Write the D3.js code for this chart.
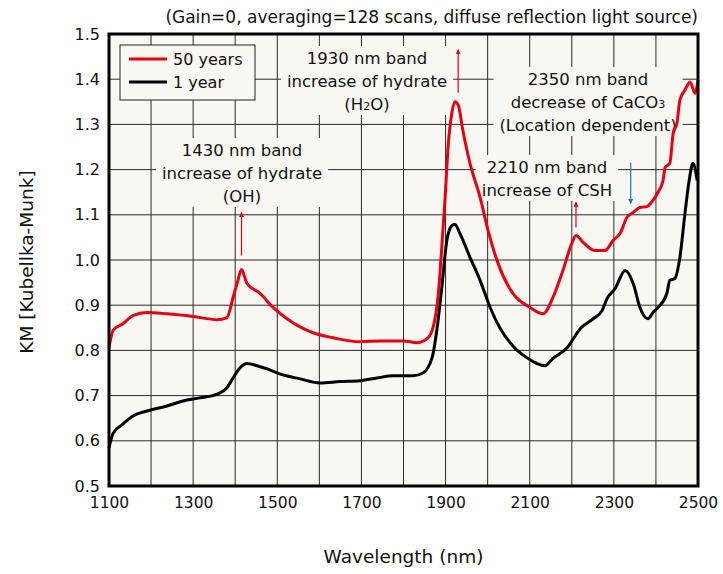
<!DOCTYPE html>
<html>
<head>
<meta charset="utf-8">
<script src="https://cdn.jsdelivr.net/npm/d3@7"></script>
<style>
  html, body { margin: 0; padding: 0; background: #fff; }
  svg { display: block; }
  text { font-family: "DejaVu Sans", sans-serif; fill: #111; }
</style>
</head>
<body>
<div id="chart"></div>
<script>
// Spektren: KM-Werte über der Wellenlänge, 50 Jahre vs. 1 Jahr
const wl50 = [1100, 1104, 1110, 1133, 1157, 1190, 1238, 1300, 1357, 1380, 1395, 1405, 1415, 1428, 1459, 1490, 1523, 1585, 1632, 1697, 1745, 1800, 1832, 1856, 1870, 1882, 1891, 1899, 1906, 1915, 1922, 1930, 1941, 1958, 1982, 2001, 2025, 2060, 2101, 2132, 2155, 2179, 2200, 2210, 2227, 2255, 2279, 2298, 2315, 2331, 2346, 2362, 2378, 2393, 2405, 2417, 2422, 2433, 2441, 2450, 2457, 2469, 2481, 2493, 2500];
const km50 = [0.806, 0.826, 0.845, 0.859, 0.877, 0.884, 0.881, 0.875, 0.868, 0.872, 0.917, 0.950, 0.979, 0.948, 0.926, 0.895, 0.870, 0.839, 0.828, 0.819, 0.821, 0.821, 0.817, 0.826, 0.850, 0.917, 1.028, 1.139, 1.250, 1.325, 1.350, 1.343, 1.287, 1.214, 1.139, 1.065, 0.992, 0.926, 0.895, 0.881, 0.917, 0.977, 1.037, 1.054, 1.039, 1.021, 1.021, 1.043, 1.059, 1.094, 1.105, 1.116, 1.118, 1.132, 1.150, 1.176, 1.205, 1.214, 1.280, 1.303, 1.354, 1.376, 1.394, 1.369, 1.398];

const wl1 = [1100, 1110, 1133, 1157, 1190, 1238, 1276, 1316, 1359, 1380, 1395, 1412, 1428, 1452, 1476, 1506, 1554, 1602, 1649, 1697, 1737, 1775, 1823, 1846, 1868, 1880, 1891, 1903, 1915, 1922, 1934, 1958, 1982, 2006, 2029, 2060, 2093, 2117, 2136, 2155, 2189, 2220, 2251, 2272, 2284, 2303, 2327, 2346, 2362, 2381, 2393, 2405, 2426, 2433, 2445, 2457, 2469, 2479, 2488, 2498];
const km1 = [0.584, 0.617, 0.637, 0.655, 0.666, 0.677, 0.688, 0.695, 0.704, 0.717, 0.739, 0.762, 0.771, 0.766, 0.759, 0.748, 0.737, 0.728, 0.731, 0.733, 0.739, 0.744, 0.744, 0.750, 0.784, 0.850, 0.939, 1.043, 1.076, 1.079, 1.059, 1.006, 0.955, 0.895, 0.850, 0.810, 0.784, 0.771, 0.766, 0.782, 0.806, 0.848, 0.870, 0.888, 0.915, 0.937, 0.977, 0.948, 0.895, 0.870, 0.884, 0.895, 0.926, 0.955, 0.959, 1.006, 1.103, 1.176, 1.214, 1.176];

const xTicks = [1100, 1300, 1500, 1700, 1900, 2100, 2300, 2500];
const yTicks = [0.5, 0.6, 0.7, 0.8, 0.9, 1.0, 1.1, 1.2, 1.3, 1.4, 1.5];

const RED = "#e60012";
const BLUE = "#1f6fc4";
const BG = "#f8f7f1";

const W = 723, H = 574;
const M = { top: 34, right: 25, bottom: 88, left: 109 };

const svg = d3.select("#chart").append("svg").attr("width", W).attr("height", H);

const x = d3.scaleLinear().domain([1100, 2500]).range([M.left, W - M.right]);
const y = d3.scaleLinear().domain([0.5, 1.5]).range([H - M.bottom, M.top]);

// Plotfläche
svg.append("rect")
  .attr("x", x(1100)).attr("y", y(1.5))
  .attr("width", x(2500) - x(1100)).attr("height", y(0.5) - y(1.5))
  .attr("fill", BG);

// Gitter
const grid = svg.append("g").attr("stroke", "#2a2a2a").attr("stroke-width", 1);
d3.range(1200, 2500, 100).forEach(v => {
  grid.append("line").attr("x1", x(v)).attr("x2", x(v)).attr("y1", y(0.5)).attr("y2", y(1.5));
});
d3.range(6, 15).forEach(i => {
  const v = i / 10;
  grid.append("line").attr("x1", x(1100)).attr("x2", x(2500)).attr("y1", y(v)).attr("y2", y(v));
});

// Achsenbeschriftungen (ohne Ticks)
svg.append("g").attr("transform", `translate(0,${y(0.5)})`)
  .call(d3.axisBottom(x).tickValues(xTicks).tickSize(0).tickPadding(11).tickFormat(d3.format("d")))
  .call(g => g.select(".domain").remove())
  .selectAll("text").style("font-size", "15.5px").attr("font-family", null);

svg.append("g").attr("transform", `translate(${x(1100)},0)`)
  .call(d3.axisLeft(y).tickValues(yTicks).tickSize(0).tickPadding(9).tickFormat(d3.format(".1f")))
  .call(g => g.select(".domain").remove())
  .selectAll("text").style("font-size", "16px").attr("font-family", null);

svg.append("text")
  .attr("x", (x(1100) + x(2500)) / 2).attr("y", 563)
  .attr("text-anchor", "middle").style("font-size", "18.5px")
  .text("Wavelength (nm)");

svg.append("text")
  .attr("transform", `translate(33,${(y(0.5) + y(1.5)) / 2 + 2}) rotate(-90)`)
  .attr("text-anchor", "middle").style("font-size", "18.5px")
  .text("KM [Kubellka-Munk]");

svg.append("text")
  .attr("x", x(2500)).attr("y", 23)
  .attr("text-anchor", "end").style("font-size", "17px")
  .text("(Gain=0, averaging=128 scans, diffuse reflection light source)");

// Annotationen mit hinterlegtem Kasten
const annG = svg.append("g");
function note(cx, yFirst, lines, lh) {
  const g = annG.append("g");
  const bg = g.append("rect").attr("fill", BG);
  const t = g.append("text").attr("text-anchor", "middle").style("font-size", "16.5px");
  lines.forEach((ln, i) => {
    const ts = t.append("tspan").attr("x", cx).attr("y", yFirst + i * lh);
    ln.forEach(part => {
      const s = ts.append("tspan").text(part.t);
      if (part.sub) s.style("font-size", "11px");
    });
  });
  const b = t.node().getBBox();
  bg.attr("x", b.x - 6).attr("y", b.y - 3).attr("width", b.width + 12).attr("height", b.height + 4);
}
note(367, 64, [[{ t: "1930 nm band" }], [{ t: "increase of hydrate" }], [{ t: "(H" }, { t: "2", sub: true }, { t: "O)" }]], 23);
note(242, 156, [[{ t: "1430 nm band" }], [{ t: "increase of hydrate" }], [{ t: "(OH)" }]], 23);
note(588, 85, [[{ t: "2350 nm band" }], [{ t: "decrease of CaCO" }, { t: "3", sub: true }], [{ t: "(Location dependent)" }]], 23);
note(547, 173, [[{ t: "2210 nm band" }], [{ t: "increase of CSH" }]], 23);

// Pfeile
const defs = svg.append("defs");
[["head-red", RED], ["head-blue", BLUE]].forEach(([id, c]) => {
  defs.append("marker").attr("id", id)
    .attr("viewBox", "0 0 10 10").attr("refX", 9).attr("refY", 5)
    .attr("markerWidth", 5).attr("markerHeight", 7).attr("markerUnits", "userSpaceOnUse")
    .attr("orient", "auto")
    .append("path").attr("d", "M0,0 L10,5 L0,10 Z").attr("fill", c);
});
function arrow(wl, v0, v1, c, id) {
  svg.append("line")
    .attr("x1", x(wl)).attr("x2", x(wl)).attr("y1", y(v0)).attr("y2", y(v1))
    .attr("stroke", c).attr("stroke-width", 1.2)
    .attr("marker-end", `url(#${id})`);
}
arrow(1930, 1.37, 1.465, RED, "head-red");
arrow(1415, 1.01, 1.105, RED, "head-red");
arrow(2210, 1.072, 1.128, RED, "head-red");
arrow(2340, 1.215, 1.125, BLUE, "head-blue");

// Kurven
const line = d3.line().x(d => x(d[0])).y(d => y(d[1])).curve(d3.curveMonotoneX);
svg.append("path").datum(d3.zip(wl1, km1))
  .attr("d", line).attr("fill", "none").attr("stroke", "#000").attr("stroke-width", 3)
  .attr("stroke-linejoin", "round");
svg.append("path").datum(d3.zip(wl50, km50))
  .attr("d", line).attr("fill", "none").attr("stroke", RED).attr("stroke-width", 3)
  .attr("stroke-linejoin", "round");

// Rahmen
svg.append("rect")
  .attr("x", x(1100)).attr("y", y(1.5))
  .attr("width", x(2500) - x(1100)).attr("height", y(0.5) - y(1.5))
  .attr("fill", "none").attr("stroke", "#000").attr("stroke-width", 3);

// Legende
const leg = svg.append("g").attr("transform", "translate(120,45)");
leg.append("rect").attr("width", 135).attr("height", 55)
  .attr("fill", BG).attr("stroke", "#222").attr("stroke-width", 1);
[["50 years", RED], ["1 year", "#000"]].forEach(([lbl, c], i) => {
  const yy = 14 + i * 23;
  leg.append("line").attr("x1", 9).attr("x2", 47).attr("y1", yy).attr("y2", yy)
    .attr("stroke", c).attr("stroke-width", 3);
  leg.append("text").attr("x", 53).attr("y", yy + 6).style("font-size", "16px").text(lbl);
});
</script>
</body>
</html>
